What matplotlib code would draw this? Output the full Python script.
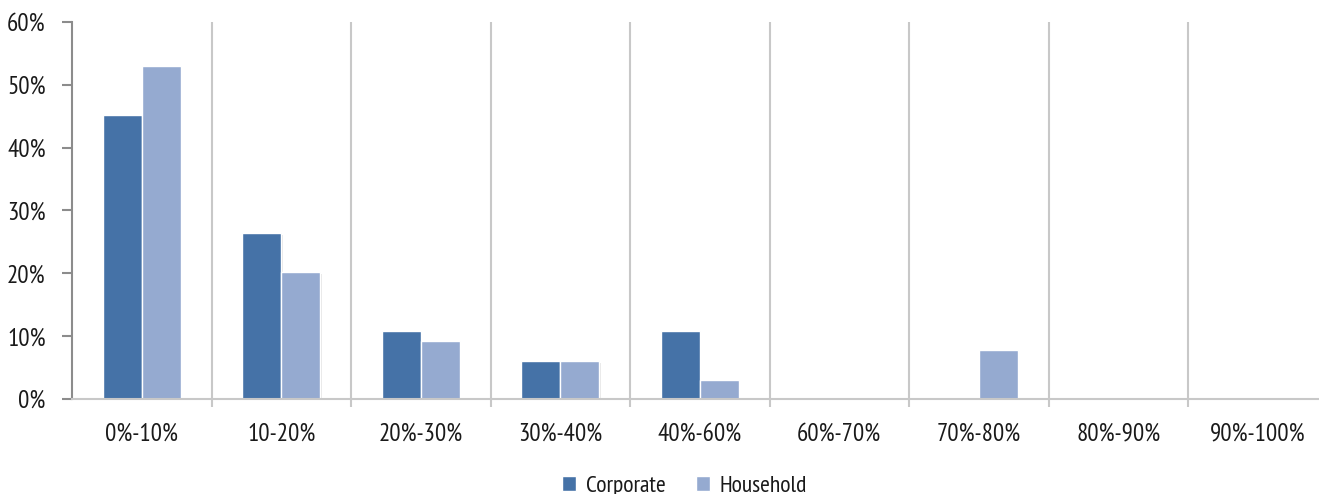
import matplotlib
matplotlib.use("Agg")
import matplotlib.pyplot as plt
from matplotlib import font_manager
from matplotlib.patches import Rectangle
import numpy as np

# Distribution of exposures by band
categories = ["0%-10%", "10-20%", "20%-30%", "30%-40%", "40%-60%",
              "60%-70%", "70%-80%", "80%-90%", "90%-100%"]
corporate = [45.2, 26.4, 10.8, 6.0, 10.8, 0.0, 0.0, 0.0, 0.0]
household = [53.0, 20.2, 9.2, 6.0, 3.0, 0.0, 7.8, 0.0, 0.0]
series_names = ["Corporate", "Household"]
y_ticks = [0, 10, 20, 30, 40, 50, 60]

colors = ["#4572A7", "#95AAD0"]

# pick a condensed humanist face
available = {f.name for f in font_manager.fontManager.ttflist}
preferred = ["PT Sans Narrow", "Fira Sans Extra Condensed", "Fira Sans Condensed",
             "Asap Condensed", "Roboto Condensed", "IBM Plex Sans Condensed"]
family = next((f for f in preferred if f in available), "DejaVu Sans")
plt.rcParams["font.family"] = [family, "DejaVu Sans"]
fs = 18

fig = plt.figure(figsize=(13.19, 4.94), dpi=100)
left_px, right_px, bottom_px, top_px = 72, 1327.5, 95, 472
ax = fig.add_axes([left_px / 1319, bottom_px / 494,
                   (right_px - left_px) / 1319, (top_px - bottom_px) / 494])

x = np.arange(len(categories))
w = 0.28
for vals, off, col, name in [(corporate, -w / 2, colors[0], series_names[0]),
                             (household, w / 2, colors[1], series_names[1])]:
    bars = ax.bar(x + off, vals, width=w, color=col, edgecolor="white",
                  linewidth=1.0, label=name, zorder=3)
    # soft drop shadow behind each bar
    for b, v in zip(bars, vals):
        if v > 0:
            ax.add_patch(Rectangle((b.get_x() + 0.012, 0), b.get_width(), v - 0.3,
                                   facecolor="#d4d4d4", edgecolor="none",
                                   zorder=2, alpha=0.6))

ax.set_xlim(-0.5, len(categories) - 0.5)
ax.set_ylim(0, 60)
ax.set_yticks(y_ticks)
ax.set_yticklabels([f"{v}%" for v in y_ticks])
ax.set_xticks(x)
ax.set_xticklabels(categories)
ax.set_xticks(np.arange(0.5, len(categories), 1.0), minor=True)

ax.tick_params(axis="y", which="major", direction="out", length=7, width=1.5,
               color="#8c8c8c", labelsize=fs, pad=12, labelcolor="#1a1a1a")
ax.tick_params(axis="x", which="major", length=0, labelsize=fs, pad=17,
               labelcolor="#1a1a1a")
ax.tick_params(axis="x", which="minor", direction="out", length=6, width=1.5,
               color="#c8c8c8")
ax.grid(axis="x", which="minor", color="#c8c8c8", linewidth=1.5, zorder=1)
ax.grid(axis="x", which="major", visible=False)
ax.grid(axis="y", visible=False)

for s in ["top", "right"]:
    ax.spines[s].set_visible(False)
ax.spines["left"].set_color("#8c8c8c")
ax.spines["left"].set_linewidth(1.5)
ax.spines["bottom"].set_color("#c8c8c8")
ax.spines["bottom"].set_linewidth(1.5)
ax.spines["bottom"].set_zorder(4)

handles, labels = ax.get_legend_handles_labels()
fig.legend(handles, labels, loc="upper center", bbox_to_anchor=(0.519, 0.047),
           ncol=2, frameon=False, fontsize=17, handlelength=0.6, handleheight=0.6,
           handletextpad=0.4, columnspacing=1.3, labelcolor="#1a1a1a",
           borderaxespad=0, borderpad=0.2)

fig.savefig("out.png", dpi=100)
